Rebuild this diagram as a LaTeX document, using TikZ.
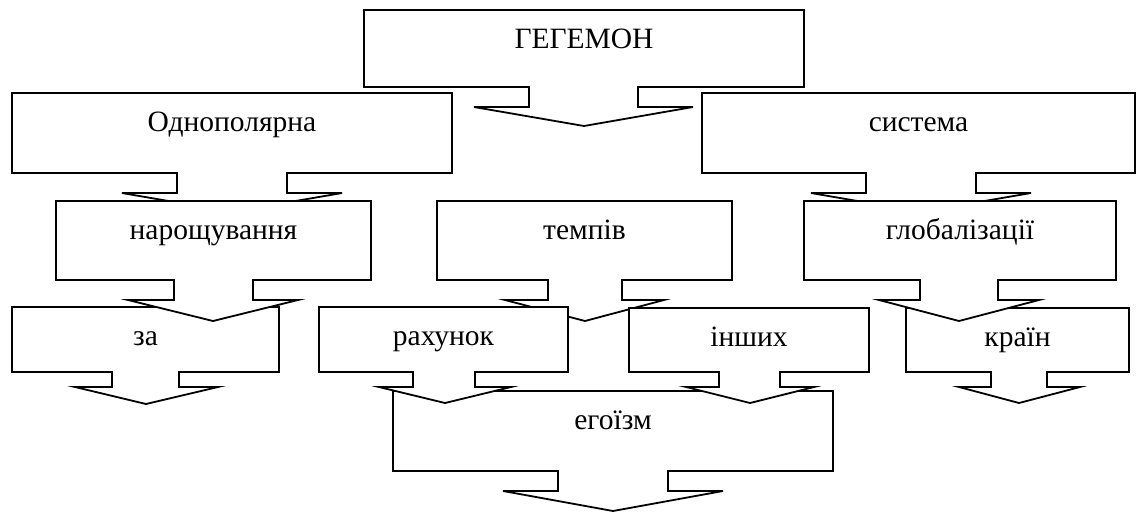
\documentclass[tikz,border=0pt]{standalone}
\usepackage{fontspec}
\setmainfont{Liberation Serif}
\tikzset{
  calloutshape/.style={draw=black, fill=white, line width=1.8pt, line join=miter},
  calloutlabel/.style={anchor=base, inner sep=0pt, font=\fontsize{29.5}{34}\selectfont}
}
% #1 name, #2 x-left, #3 x-right, #4 top, #5 bottom, #6 shaft-left, #7 shaft-right,
% #8 shaft-bottom, #9 rest: wing-left/wing-right/tipx/tipy/text
\def\cbox#1#2#3#4#5#6#7#8#9{\def\cboxA{#1}\def\cboxB{#2}\def\cboxC{#3}\def\cboxD{#4}%
  \def\cboxE{#5}\def\cboxF{#6}\def\cboxG{#7}\def\cboxH{#8}\cboxrest#9\relax}
\def\cboxrest#1/#2/#3/#4/#5\relax{%
  \draw[calloutshape] (\cboxB,\cboxD) -- (\cboxC,\cboxD) -- (\cboxC,\cboxE) -- (\cboxG,\cboxE)
    -- (\cboxG,\cboxH) -- (#2,\cboxH) -- (#3,#4) -- (#1,\cboxH) -- (\cboxF,\cboxH)
    -- (\cboxF,\cboxE) -- (\cboxB,\cboxE) -- cycle;
  \node[calloutlabel] (\cboxA) at ({(\cboxB+\cboxC)/2},{\cboxD+38}) {#5};}
\begin{document}
\begin{tikzpicture}[x=1pt,y=-1pt]
\useasboundingbox (0,0) rectangle (1137,512);
% bottom row first
\cbox{egoizm}{393}{833}{391}{471}{558}{668}{491}{503/723/613/511/егоїзм}
\cbox{za}{12}{279}{307}{372}{112}{179}{387}{75/218/146/404/за}
\cbox{krayin}{906}{1129}{308}{372}{991}{1047}{387}{959/1080/1019/403/країн}
\cbox{odnopol}{12}{452}{93}{173}{177}{287}{193}{122/342/232/212/Однополярна}
\cbox{systema}{702}{1135}{93}{173}{866}{976}{193}{811/1031/921/212/система}
\cbox{hegemon}{364}{804}{10}{87}{529}{638}{107}{474/693/584/126/ГЕГЕМОН}
\cbox{naroshch}{56}{371}{201}{280}{174}{253}{300}{128/298/213/321/нарощування}
\cbox{tempiv}{437}{732}{201}{280}{548}{622}{300}{505/664/585/321/темпів}
\cbox{global}{804}{1116}{201}{280}{920}{998}{300}{879/1039/959/321/глобалізації}
\cbox{rakhunok}{319}{568}{307}{372}{413}{475}{387}{379/511/445/403/рахунок}
\cbox{inshykh}{629}{869}{308}{372}{719}{780}{387}{686/814/750/403/інших}
\end{tikzpicture}
\end{document}
